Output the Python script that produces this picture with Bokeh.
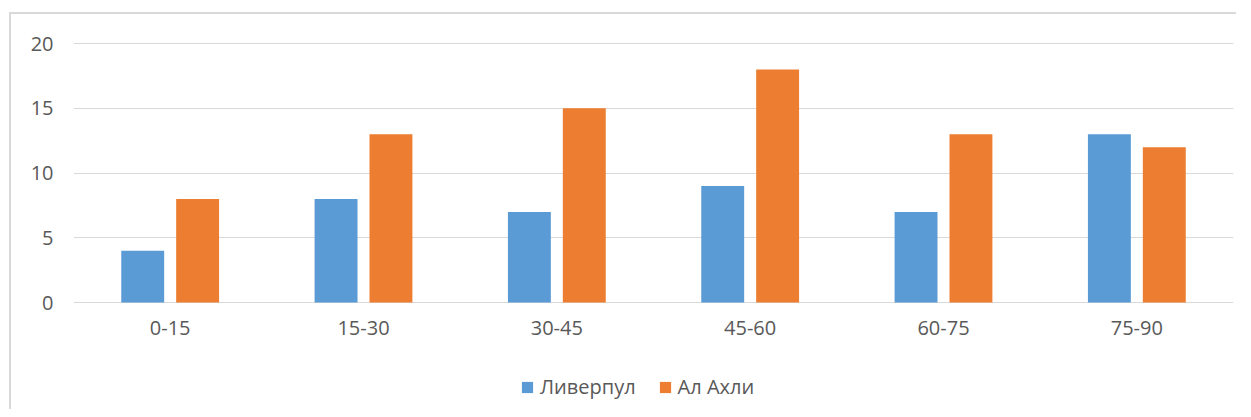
from bokeh.plotting import figure
from bokeh.models import FactorRange, Range1d, FixedTicker, Legend, LegendItem, ColumnDataSource
from bokeh.layouts import column
from bokeh.transform import dodge
from bokeh.embed import file_html
from bokeh.resources import INLINE

categories = ["0-15", "15-30", "30-45", "45-60", "60-75", "75-90"]
liverpool = [4, 8, 7, 9, 7, 13]
al_ahli = [8, 13, 15, 18, 13, 12]
series_names = ["Ливерпул", "Ал Ахли"]
y_ticks = [0, 5, 10, 15, 20]
colors = ["#5B9BD5", "#ED7D31"]

FONT = "Open Sans"
TXT = "#595959"

src = ColumnDataSource(dict(cat=categories, a=liverpool, b=al_ahli))

p = figure(width=1225, height=395, x_range=FactorRange(factors=categories),
           y_range=Range1d(-8.26, 20.08), output_backend="svg", toolbar_location=None,
           min_border_left=62, min_border_right=3, min_border_top=28, min_border_bottom=0)

r1 = p.vbar(x=dodge("cat", -0.142, range=p.x_range), top="a", width=0.222, source=src,
            fill_color=colors[0], line_color=None)
r2 = p.vbar(x=dodge("cat", 0.142, range=p.x_range), top="b", width=0.222, source=src,
            fill_color=colors[1], line_color=None)

p.outline_line_color = None
p.xgrid.grid_line_color = None
p.ygrid.grid_line_color = "#D9D9D9"
p.ygrid.grid_line_width = 1.2
p.yaxis.ticker = FixedTicker(ticks=y_ticks)
p.xaxis.fixed_location = 0

for ax in (p.xaxis[0], p.yaxis[0]):
    ax.axis_line_color = None
    ax.major_tick_line_color = None
    ax.minor_tick_line_color = None
    ax.major_tick_out = 0
    ax.major_tick_in = 0
    ax.minor_tick_out = 0
    ax.major_label_text_font = FONT
    ax.major_label_text_font_size = "20px"
    ax.major_label_text_color = TXT
p.xaxis.major_label_standoff = 18
p.yaxis.major_label_standoff = 20

legend = Legend(items=[LegendItem(label=series_names[0], renderers=[r1]),
                       LegendItem(label=series_names[1], renderers=[r2])],
                orientation="horizontal", location=(447, 9),
                glyph_width=14, glyph_height=14, label_standoff=6, spacing=22,
                padding=0, margin=0, border_line_color=None, background_fill_alpha=0,
                label_text_font=FONT, label_text_font_size="20px", label_text_color=TXT)
p.add_layout(legend, "center")

layout = column(p, styles={"border-left": "2px solid #D9D9D9", "border-top": "2px solid #D9D9D9",
                           "margin-left": "9px", "margin-top": "12px"})

open("out.html", "w").write(file_html(layout, INLINE))
